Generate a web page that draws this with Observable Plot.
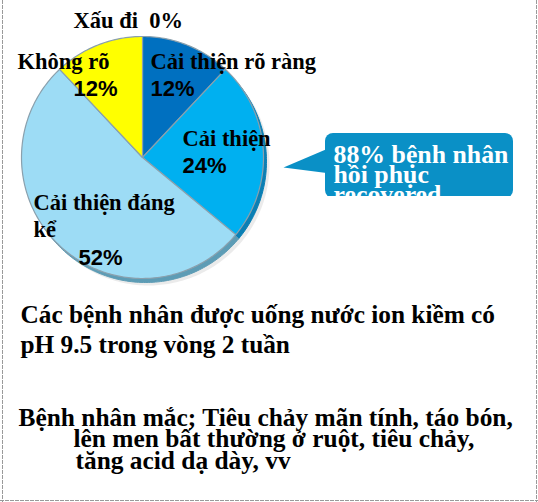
<!DOCTYPE html>
<html>
<head>
<meta charset="utf-8">
<script src="https://cdn.jsdelivr.net/npm/d3@7"></script>
<script src="https://cdn.jsdelivr.net/npm/@observablehq/plot@0.6"></script>
<style>
  html, body { margin: 0; padding: 0; background: #fff; }
</style>
</head>
<body>
<div id="chart"></div>
<script>
// ---- data ----
const categories = ["Cải thiện rõ ràng", "Cải thiện", "Cải thiện đáng kể", "Không rõ", "Xấu đi"];
const values = [12, 24, 52, 12, 0];
const nameLines = [["Cải thiện rõ ràng"], ["Cải thiện"], ["Cải thiện đáng", "kể"], ["Không rõ"], ["Xấu đi  0%"]];
const pctLabels = ["12%", "24%", "52%", "12%", ""];
const calloutLines = ["88% bệnh nhân", "hồi phục", "recovered"];
const noteLines = ["Các bệnh nhân được uống nước ion kiềm có", "pH 9.5 trong vòng 2 tuần"];
const diseaseLines = ["Bệnh nhân mắc; Tiêu chảy mãn tính, táo bón,", "lên men bất thường ở ruột, tiêu chảy,", "tăng acid dạ dày, vv"];

// ---- styles / layout ----
const sliceColors = ["#0070c0", "#00b0f0", "#9ddcf5", "#ffff00", "#c00000"];
const rimColors = ["#0a5f96", "#0a7fb4", "#5d9cb5", "#b8b000", "#800000"];
const W = 538, H = 502;
const cx = 142, cy = 157, R = 121;
const nameLayout = [
  {x: 150, y: [68]},
  {x: 182, y: [145]},
  {x: 33, y: [209, 236]},
  {x: 17, y: [68]},
  {x: 73, y: [27]}
];
const pctLayout = [{x: 150, y: 95}, {x: 182, y: 172}, {x: 78, y: 264}, {x: 73, y: 95}, null];

// ---- slice geometry from values ----
const pie = d3.pie().sort(null).value(d => d)(values);
function slicePoints(offx, offy) {
  const pts = [];
  pie.forEach((p, i) => {
    if (p.endAngle - p.startAngle <= 0) return;
    pts.push({cat: categories[i], i, x: cx + offx, y: cy + offy});
    const n = Math.max(2, Math.ceil((p.endAngle - p.startAngle) / 0.02));
    for (let k = 0; k <= n; k++) {
      const a = p.startAngle + (p.endAngle - p.startAngle) * k / n;
      pts.push({cat: categories[i], i, x: cx + offx + R * Math.sin(a), y: cy + offy - R * Math.cos(a)});
    }
  });
  return pts;
}
const rimPts = slicePoints(3, 4);
const shadowPts = slicePoints(6, 7);
const topPts = slicePoints(0, 0);

const serif = "'Liberation Serif', 'Times New Roman', serif";
const sans = "'Liberation Sans', Arial, sans-serif";

const nameRows = [];
nameLines.forEach((lines, i) => lines.forEach((t, j) => nameRows.push({t, x: nameLayout[i].x, y: nameLayout[i].y[j]})));
const pctRows = pctLabels.map((t, i) => t && pctLayout[i] ? {t, x: pctLayout[i].x, y: pctLayout[i].y} : null).filter(Boolean);
const calloutRows = calloutLines.map((t, j) => ({t, x: 333, y: 162 + j * 20}));
const noteRows = noteLines.map((t, j) => ({t, x: 20, y: 322 + j * 30}));
const diseaseRows = diseaseLines.map((t, j) => ({t, x: j === 0 ? 18 : (j === 1 ? 73 : 75), y: 425.5 + j * 21.3}));

const baseFS = (fs) => (d) => d.y - 0.32 * fs; // baseline -> Plot middle

const chart = Plot.plot({
  width: W, height: H,
  margin: 0,
  x: {domain: [0, W], range: [0, W], axis: null},
  y: {domain: [0, H], range: [0, H], axis: null},
  style: {background: "#fff"},
  marks: [
    Plot.line(shadowPts, {x: "x", y: "y", z: "cat", curve: "linear-closed", fill: "#000", fillOpacity: 0.08, stroke: "none"}),
    Plot.line(rimPts, {x: "x", y: "y", z: "cat", curve: "linear-closed", fill: d => rimColors[d.i], stroke: d => rimColors[d.i], strokeWidth: 1}),
    Plot.line(topPts, {x: "x", y: "y", z: "cat", curve: "linear-closed", fill: d => sliceColors[d.i], stroke: "#8aa0ad", strokeWidth: 1.2}),
    Plot.text(nameRows, {x: "x", y: baseFS(22.5), text: "t", textAnchor: "start", fontFamily: serif, fontWeight: "bold", fontSize: 22.5, fill: "#000"}),
    Plot.text(pctRows, {x: "x", y: baseFS(22), text: "t", textAnchor: "start", fontFamily: sans, fontWeight: "bold", fontSize: 22, fill: "#000"}),
    Plot.line([{x: 283, y: 167}, {x: 330, y: 147}, {x: 330, y: 173}], {x: "x", y: "y", curve: "linear-closed", fill: "#0a90c6", stroke: "none"}),
    Plot.rect([{x1: 325, x2: 513, y1: 133, y2: 198}], {x1: "x1", x2: "x2", y1: "y1", y2: "y2", fill: "#0a90c6", rx: 8}),
    Plot.text(calloutRows, {x: "x", y: baseFS(25.8), text: "t", textAnchor: "start", fontFamily: serif, fontWeight: "bold", fontSize: 25.8, fill: "#fff"}),
    Plot.rect([{x1: 320, x2: 520, y1: 196, y2: 215}], {x1: "x1", x2: "x2", y1: "y1", y2: "y2", fill: "#fff"}),
    Plot.text(noteRows, {x: "x", y: baseFS(25.3), text: "t", textAnchor: "start", fontFamily: serif, fontWeight: "bold", fontSize: 25.3, fill: "#000"}),
    Plot.text(diseaseRows, {x: "x", y: baseFS(25.4), text: "t", textAnchor: "start", fontFamily: serif, fontWeight: "bold", fontSize: 25.4, fill: "#000"}),
    Plot.frame({anchor: "left", insetLeft: 2, stroke: "#9a9a9a", strokeDasharray: "3,2"}),
    Plot.frame({anchor: "right", insetRight: 2, stroke: "#9a9a9a", strokeDasharray: "3,2"}),
    Plot.frame({anchor: "bottom", insetBottom: 2, stroke: "#9a9a9a", strokeDasharray: "3,2"})
  ]
});
document.getElementById("chart").appendChild(chart);
</script>
</body>
</html>
